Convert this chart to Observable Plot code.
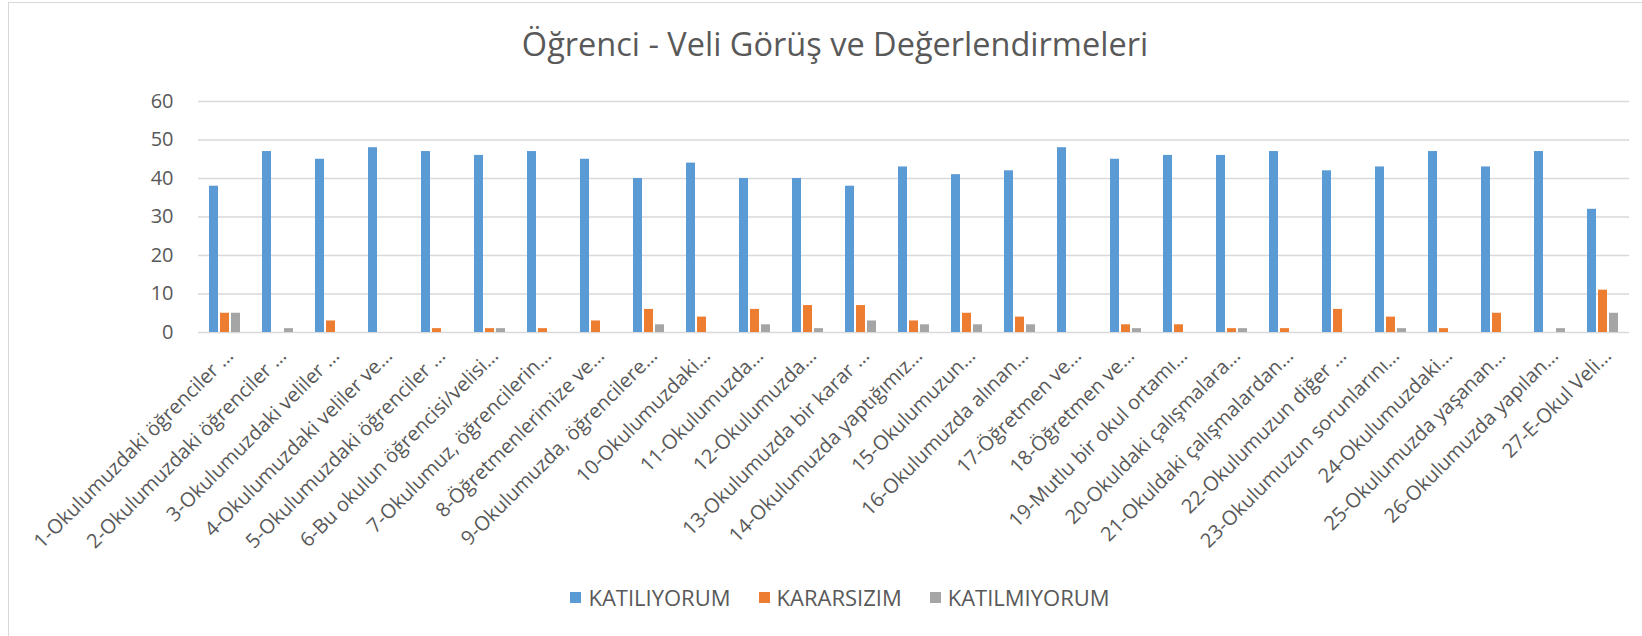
<!DOCTYPE html>
<html>
<head>
<meta charset="utf-8">
<script src="https://cdn.jsdelivr.net/npm/d3@7"></script>
<script src="https://cdn.jsdelivr.net/npm/@observablehq/plot@0.6"></script>
<style>
  html, body { margin: 0; padding: 0; background: #fff; }
  #wrap { position: relative; width: 1642px; height: 636px; overflow: hidden; font-family: "Open Sans", sans-serif; color: #595959; }
  #frame { position: absolute; left: 8px; top: 2px; width: 1640px; height: 640px; border-left: 1.5px solid #d9d9d9; border-top: 1.5px solid #d9d9d9; }
  #title { position: absolute; left: 0; width: 1670px; top: 22px; text-align: center; font-size: 32.5px; line-height: 44px; color: #595959; }
  #chart { position: absolute; left: 0; top: 80px; }
  #legend { position: absolute; left: 0; top: 582px; width: 1680px; display: flex; justify-content: center; gap: 28px; font-size: 22px; line-height: 30px; }
  #legend .item { display: flex; align-items: center; gap: 7px; }
  #legend .sw { width: 11px; height: 11px; display: inline-block; }
  #chart g[aria-label^="y-axis"] text { font-size: 20px; }
  #chart g[aria-label^="fx-axis"] text { font-size: 20px; }
</style>
</head>
<body>
<div id="wrap">
  <div id="frame"></div>
  <div id="title">Öğrenci - Veli Görüş ve Değerlendirmeleri</div>
  <div id="chart"></div>
  <div id="legend"></div>
</div>
<script>
const questions = [
  "1-Okulumuzdaki öğrenciler …",
  "2-Okulumuzdaki öğrenciler …",
  "3-Okulumuzdaki veliler …",
  "4-Okulumuzdaki veliler ve…",
  "5-Okulumuzdaki öğrenciler …",
  "6-Bu okulun öğrencisi/velisi…",
  "7-Okulumuz, öğrencilerin…",
  "8-Öğretmenlerimize ve…",
  "9-Okulumuzda, öğrencilere…",
  "10-Okulumuzdaki…",
  "11-Okulumuzda…",
  "12-Okulumuzda…",
  "13-Okulumuzda bir karar …",
  "14-Okulumuzda yaptığımız…",
  "15-Okulumuzun…",
  "16-Okulumuzda alınan…",
  "17-Öğretmen ve…",
  "18-Öğretmen ve…",
  "19-Mutlu bir okul ortamı…",
  "20-Okuldaki çalışmalara…",
  "21-Okuldaki çalışmalardan…",
  "22-Okulumuzun diğer …",
  "23-Okulumuzun sorunlarını…",
  "24-Okulumuzdaki…",
  "25-Okulumuzda yaşanan…",
  "26-Okulumuzda yapılan…",
  "27-E-Okul Veli…"
];
const series = ["KATILIYORUM", "KARARSIZIM", "KATILMIYORUM"];
const colors = ["#5B9BD5", "#ED7D31", "#A5A5A5"];
const katiliyorum  = [38,47,45,48,47,46,47,45,40,44,40,40,38,43,41,42,48,45,46,46,47,42,43,47,43,47,32];
const kararsizim   = [5,0,3,0,1,1,1,3,6,4,6,7,7,3,5,4,0,2,2,1,1,6,4,1,5,0,11];
const katilmiyorum = [5,1,0,0,0,1,0,0,2,0,2,1,3,2,2,2,0,1,0,1,0,0,1,0,0,1,5];
const yTicks = [0,10,20,30,40,50,60];

const values = [katiliyorum, kararsizim, katilmiyorum];
const data = questions.flatMap((q, i) => series.map((s, j) => ({q, s, v: values[j][i]})));

const chart = Plot.plot({
  width: 1642,
  height: 480,
  marginTop: 21,
  marginBottom: 228,
  marginLeft: 192,
  marginRight: 8,
  style: {fontFamily: "Open Sans", color: "#595959", background: "transparent", overflow: "visible"},
  facet: {data, x: "q"},
  fx: {domain: questions, padding: 0, axis: "bottom", label: null, tickRotate: -45, tickSize: 0, tickPadding: 20},
  x: {domain: series, axis: null, paddingInner: 0.18, paddingOuter: 0.95},
  y: {domain: [0, 60], ticks: yTicks, tickSize: 0, tickPadding: 25, label: null},
  color: {domain: series, range: colors},
  marks: [
    Plot.ruleY(yTicks, {stroke: "#d9d9d9", strokeWidth: 1.5}),
    Plot.barY(data, {x: "s", y: "v", fill: "s"})
  ]
});
// nudge the rotated category labels a few pixels to the right, as in the reference
chart.querySelectorAll('g[aria-label^="fx-axis"]').forEach(g => {
  const wrapper = document.createElementNS("http://www.w3.org/2000/svg", "g");
  wrapper.setAttribute("transform", "translate(5,0)");
  g.parentNode.insertBefore(wrapper, g);
  wrapper.appendChild(g);
});
document.getElementById("chart").appendChild(chart);

const legend = document.getElementById("legend");
series.forEach((s, i) => {
  const item = document.createElement("div");
  item.className = "item";
  const sw = document.createElement("span");
  sw.className = "sw";
  sw.style.background = colors[i];
  const t = document.createElement("span");
  t.textContent = s;
  item.appendChild(sw);
  item.appendChild(t);
  legend.appendChild(item);
});
</script>
</body>
</html>
